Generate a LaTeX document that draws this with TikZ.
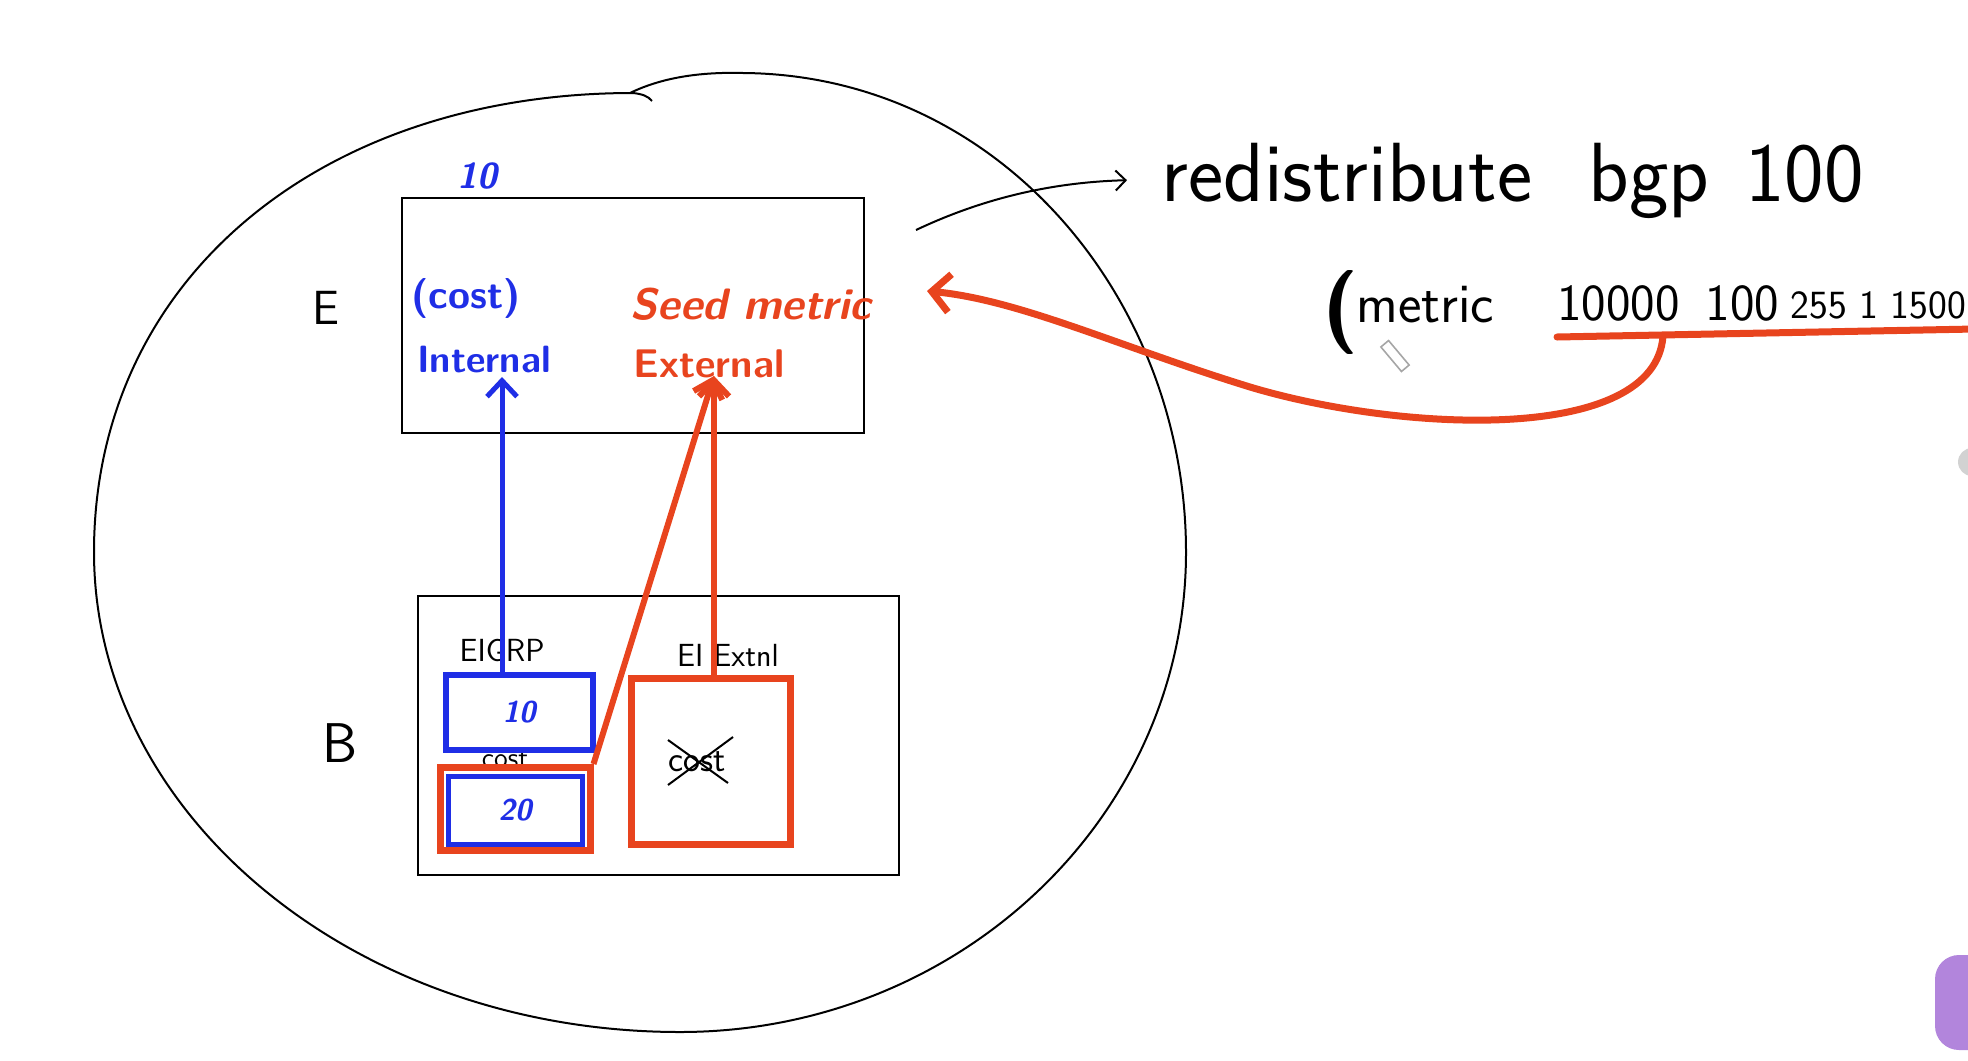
\documentclass[tikz,border=0pt]{standalone}
\usetikzlibrary{arrows.meta}
\definecolor{penblue}{HTML}{1F2EE6}
\definecolor{penred}{HTML}{E8441E}
\definecolor{uipurple}{HTML}{B285DC}
\begin{document}
\begin{tikzpicture}[x=0.5pt,y=-0.5pt,
        ink/.style = {line width=1pt,black},
        frame/.style = {draw,line width=1pt,inner sep=0pt},
        bluebox/.style = {draw=penblue,line width=3pt,fill=white,inner sep=0pt},
        redbox/.style = {draw=penred,line width=3.5pt,fill=white,inner sep=0pt},
        bluearrow/.style = {penblue,line width=2.5pt,-{Straight Barb[length=8pt,width=15pt]}},
        redarrow/.style = {penred,line width=3pt,-{Straight Barb[length=8pt,width=15pt]}},
        marker/.style = {font=\sffamily\bfseries\fontsize{20}{22}\selectfont,inner sep=0pt},
        hand/.style = {font=\sffamily\fontsize{16}{18}\selectfont,inner sep=0pt},
        cmd/.style = {anchor=base west,font=\sffamily\fontsize{42}{44}\selectfont,inner sep=0pt}]
    \useasboundingbox (0,0) rectangle (1968,1060);

    % the domain, with its bump on top
    \draw[ink] (633,93) .. controls (320,93) and (94,280) .. (94,552)
        .. controls (94,817) and (357,1032) .. (680,1032)
        .. controls (959,1032) and (1186,817) .. (1186,552)
        .. controls (1186,300) and (1000,75) .. (743,73)
        .. controls (705,72) and (665,76) .. (630,93);
    \draw[ink] (633,93) .. controls (642,94) and (648,96) .. (652,101);

    % router E
    \node[frame,minimum width=231pt,minimum height=117.5pt] (boxE) at (633,315) {};
    \node[hand,font=\sffamily\fontsize{24}{26}\selectfont] (labelE) at (326,308) {E};
    \node[marker,penblue,font=\sffamily\bfseries\itshape\fontsize{18}{20}\selectfont] (topTen) at (477,176) {10};
    \node[marker,penblue] (cost) at (466,298) {(cost)};
    \node[marker,penblue,font=\sffamily\bfseries\fontsize{19}{21}\selectfont] (internal) at (484,360) {Internal};
    \node[marker,penred,font=\sffamily\bfseries\itshape\fontsize{22}{24}\selectfont] (seed) at (751,304) {Seed metric};
    \node[marker,penred] (external) at (709,364) {External};

    % router B
    \node[frame,minimum width=240.5pt,minimum height=139.5pt] (boxB) at (658,735) {};
    \node[hand,font=\sffamily\fontsize{28}{30}\selectfont] (labelB) at (340,743) {B};
    \node[hand] (eigrp) at (502,650) {EIGRP};
    \node[hand] (eiExt) at (728,656) {EI Extnl};
    \node[hand,font=\sffamily\fontsize{14}{16}\selectfont] (midCost) at (505,760) {cost};

    \node[bluebox,minimum width=73.5pt,minimum height=37.5pt] (blueTen) at (519,712) {};
    \node[marker,penblue,font=\sffamily\bfseries\itshape\fontsize{15}{17}\selectfont] at (blueTen) {10};
    \node[redbox,minimum width=75pt,minimum height=41.5pt] (redTwenty) at (515,809) {};
    \node[bluebox,line width=2.5pt,minimum width=67pt,minimum height=34pt] (blueTwenty) at (515,810) {};
    \node[marker,penblue,font=\sffamily\bfseries\itshape\fontsize{15}{17}\selectfont] at (blueTwenty) {20};
    \node[redbox,minimum width=79.5pt,minimum height=83pt] (redExt) at (711,761) {};
    \node[hand,font=\sffamily\fontsize{18}{20}\selectfont] (oldCost) at (697,762) {cost};
    \draw[ink] (668,740) -- (728,783);
    \draw[ink] (668,785) -- (733,737);

    % metric arrows
    \coordinate (intTip) at (502,377);
    \coordinate (extTip) at (714,376);
    \draw[bluearrow] (blueTen.north -| intTip) -- (intTip);
    \draw[redarrow] (redExt.north -| extTip) -- (extTip);
    \draw[redarrow] (redTwenty.north east) -- (extTip);

    % command
    \node[cmd] (redist) at (1161,201) {redistribute};
    \node[cmd] (bgp) at (1588,201) {bgp};
    \node[cmd] (asNum) at (1745,201) {100};
    \draw[ink,-{Straight Barb[length=5pt,width=10pt]}] (916,230)
        .. controls (990,195) and (1060,182) .. ([xshift=-17pt,yshift=-4pt]redist.west);
    \node[anchor=base west,font=\sffamily\bfseries\fontsize{42}{44}\selectfont,inner sep=0pt] (paren) at (1322,333) {(};
    \node[anchor=base west,font=\sffamily\fontsize{28}{30}\selectfont,inner sep=0pt] (metric) at (1356,322) {metric};
    \node[anchor=base west,font=\sffamily\fontsize{26}{28}\selectfont,inner sep=0pt] (values) at (1557,320) {10000\enspace 100};
    \node[anchor=base west,font=\sffamily\fontsize{20}{22}\selectfont,inner sep=0pt] (rest) at (1790,318) {255 1 1500};
    \node[draw=gray!70,line width=0.8pt,minimum width=16pt,minimum height=5pt,inner sep=0pt,rotate=-50] (pencil) at (1395,356) {};

    % seed metric comes from the command
    \coordinate (ulStart) at (1557,337);
    \coordinate (ulEnd) at (1975,329);
    \coordinate (ulTap) at (1663,336);
    \coordinate (seedTip) at (927,291);
    \draw[penred,line width=3.5pt,line cap=round] (ulStart) -- (ulEnd);
    \draw[penred,line width=3.5pt,-{Straight Barb[length=9pt,width=19pt]}] (ulTap)
        .. controls (1655,445) and (1400,432) .. (1250,387)
        .. controls (1120,347) and (1020,300) .. (seedTip);

    % screen leftovers
    \fill[uipurple,rounded corners=12pt] (1935,955) rectangle (1995,1050);
    \fill[gray!35] (1972,462) circle (14);
\end{tikzpicture}
\end{document}
